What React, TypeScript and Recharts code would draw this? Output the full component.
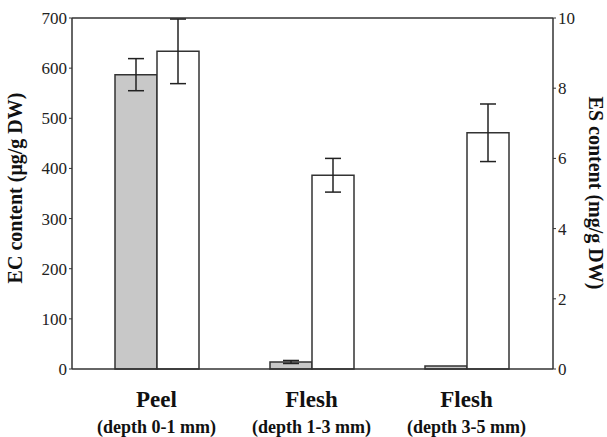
import React from "react";
import {
  BarChart,
  Bar,
  XAxis,
  YAxis,
  ErrorBar,
  ReferenceLine,
  Label,
} from "recharts";

const tissues = ["Peel", "Flesh", "Flesh"];
const depths = ["(depth 0-1 mm)", "(depth 1-3 mm)", "(depth 3-5 mm)"];
const ecValues = [587, 14, 6];
const ecErrors = [32, 3, 0];
const esValues = [9.05, 5.52, 6.73];
const esErrors = [0.92, 0.48, 0.82];

const leftTicks = [0, 100, 200, 300, 400, 500, 600, 700];
const rightTicks = [0, 2, 4, 6, 8, 10];

const FONT = "'Liberation Serif', 'Times New Roman', serif";

const data = tissues.map((t, i) => ({
  id: String(i),
  tissue: t,
  depth: depths[i],
  EC: ecValues[i],
  ECerr: ecErrors[i],
  ES: esValues[i],
  ESerr: esErrors[i],
}));

// two-line category label: tissue name + depth range
const CategoryTick = (props: any) => {
  const { x, y, payload } = props;
  const i = Number(payload.value);
  return (
    <g>
      <text
        x={x}
        y={y + 30}
        textAnchor="middle"
        fontFamily={FONT}
        fontWeight="bold"
        fontSize={23}
        fill="#111"
      >
        {tissues[i]}
      </text>
      <text
        x={x}
        y={y + 56}
        textAnchor="middle"
        fontFamily={FONT}
        fontWeight="bold"
        fontSize={18}
        fill="#111"
      >
        {depths[i]}
      </text>
    </g>
  );
};

const App = () => {
  return (
    <div style={{ position: "absolute", left: 0, top: 0, background: "#fff" }}>
      <BarChart
        width={607}
        height={437}
        data={data}
        margin={{ top: 18, right: 24, bottom: 8, left: 22 }}
        barCategoryGap={36}
        barGap={0}
      >
        <XAxis
          dataKey="id"
          tick={<CategoryTick />}
          tickLine={false}
          axisLine={{ stroke: "#333", strokeWidth: 1.5 }}
          height={60}
          interval={0}
          padding={{ left: 7, right: 9 }}
        />
        <YAxis
          yAxisId="ec"
          domain={[0, 700]}
          ticks={leftTicks}
          width={50}
          tickSize={3}
          axisLine={{ stroke: "#333", strokeWidth: 1.5 }}
          tickLine={{ stroke: "#333" }}
          tick={{ fontFamily: FONT, fontSize: 17, fill: "#222" }}
        >
          <Label
            content={() => (
              <text
                x={17}
                y={188}
                transform="rotate(-90 17 188)"
                textAnchor="middle"
                dominantBaseline="middle"
                fontFamily={FONT}
                fontWeight="bold"
                fontSize={20}
                fill="#111"
              >
                EC content (μg/g DW)
              </text>
            )}
          />
        </YAxis>
        <YAxis
          yAxisId="es"
          orientation="right"
          domain={[0, 10]}
          ticks={rightTicks}
          width={30}
          tickSize={3}
          axisLine={{ stroke: "#333", strokeWidth: 1.5 }}
          tickLine={{ stroke: "#333" }}
          tick={{ fontFamily: FONT, fontSize: 17, fill: "#222" }}
        >
          <Label
            content={() => (
              <text
                x={594}
                y={193}
                transform="rotate(90 594 193)"
                textAnchor="middle"
                dominantBaseline="middle"
                fontFamily={FONT}
                fontWeight="bold"
                fontSize={20}
                fill="#111"
              >
                ES content (mg/g DW)
              </text>
            )}
          />
        </YAxis>
        <ReferenceLine yAxisId="ec" y={700} stroke="#333" strokeWidth={1.5} />
        <Bar
          yAxisId="ec"
          dataKey="EC"
          fill="#c8c8c8"
          stroke="#333"
          strokeWidth={1.5}
          isAnimationActive={false}
        >
          <ErrorBar dataKey="ECerr" width={8} stroke="#222" strokeWidth={1.5} />
        </Bar>
        <Bar
          yAxisId="es"
          dataKey="ES"
          fill="#fff"
          stroke="#333"
          strokeWidth={1.5}
          isAnimationActive={false}
        >
          <ErrorBar dataKey="ESerr" width={8} stroke="#222" strokeWidth={1.5} />
        </Bar>
      </BarChart>
    </div>
  );
};

export default App;
